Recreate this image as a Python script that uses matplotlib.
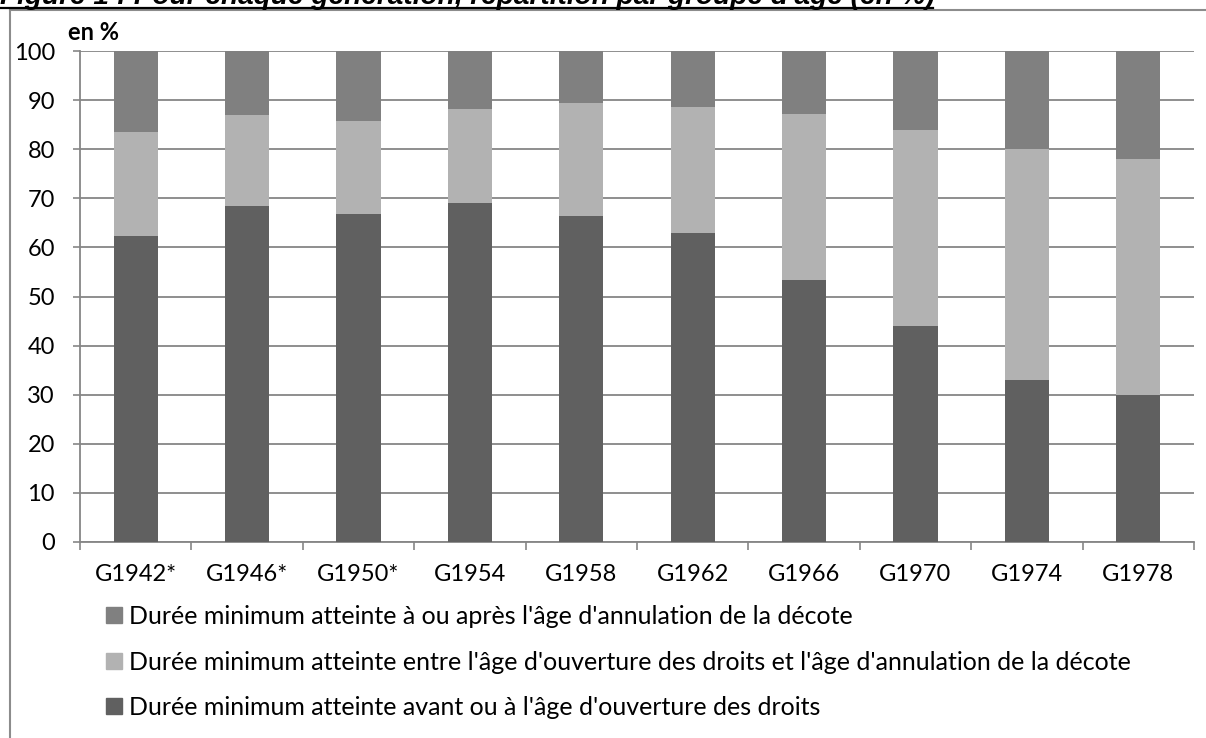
import matplotlib

matplotlib.use("Agg")
import matplotlib.pyplot as plt
import numpy as np
from matplotlib.lines import Line2D
from matplotlib.patches import Patch

# Données (en %)
generations = ["G1942*", "G1946*", "G1950*", "G1954", "G1958",
               "G1962", "G1966", "G1970", "G1974", "G1978"]
avant_ouverture = [62.3, 68.4, 66.8, 69.0, 66.4, 62.9, 53.4, 43.9, 32.9, 30.0]
entre_ages = [21.2, 18.5, 18.9, 19.2, 23.0, 25.7, 33.7, 40.0, 47.2, 48.0]
apres_annulation = [16.5, 13.1, 14.3, 11.8, 10.6, 11.4, 12.9, 16.1, 19.9, 22.0]

labels = [
    "Durée minimum atteinte à ou après l'âge d'annulation de la décote",
    "Durée minimum atteinte entre l'âge d'ouverture des droits et l'âge d'annulation de la décote",
    "Durée minimum atteinte avant ou à l'âge d'ouverture des droits",
]
col_dark = "#606060"
col_light = "#b2b2b2"
col_mid = "#808080"
grid_col = "#868686"
fs = 17

plt.rcParams["font.family"] = ["Lato", "DejaVu Sans"]

W, H = 1206, 738
fig = plt.figure(figsize=(W / 100, H / 100), dpi=100)
ax = fig.add_axes([80 / W, 1 - 542 / H, (1194 - 80) / W, (542 - 51) / H])

x = np.arange(len(generations))
bw = 0.395
b1 = np.array(avant_ouverture)
b2 = b1 + np.array(entre_ages)
ax.bar(x, avant_ouverture, bw, color=col_dark, zorder=3)
ax.bar(x, entre_ages, bw, bottom=b1, color=col_light, zorder=3)
ax.bar(x, apres_annulation, bw, bottom=b2, color=col_mid, zorder=3)

ax.set_xlim(-0.5, len(generations) - 0.5)
ax.set_ylim(0, 100)
ax.set_yticks(np.arange(0, 101, 10))
ax.set_xticks(x)
ax.set_xticklabels(generations)
ax.set_xticks(np.arange(-0.5, len(generations), 1), minor=True)
ax.tick_params(axis="x", which="major", length=0, pad=16, labelsize=fs)
ax.tick_params(axis="x", which="minor", length=6, width=1.2, color=grid_col)
ax.tick_params(axis="y", length=5, width=1.2, color=grid_col, labelsize=fs, pad=13)
ax.yaxis.grid(True, color=grid_col, linewidth=1.3, zorder=0)
for s in ["top", "right"]:
    ax.spines[s].set_visible(False)
for s in ["left", "bottom"]:
    ax.spines[s].set_color(grid_col)
    ax.spines[s].set_linewidth(1.3)
ax.set_axisbelow(True)

fig.text(68 / W, 1 - 33 / H, "en %", fontsize=fs, fontweight="bold", va="center")

# Légende
handles = [Patch(color=col_mid), Patch(color=col_light), Patch(color=col_dark)]
fig.legend(handles, labels, loc="upper left", bbox_to_anchor=(106 / W, 1 - 605 / H),
           frameon=False, fontsize=18, handlelength=0.62, handleheight=0.62,
           handletextpad=0.3, labelspacing=0.9, borderpad=0, borderaxespad=0)

# Cadre et titre (coupé en haut)
fig.add_artist(Line2D([10 / W, 10 / W], [0, 1 - 10 / H], color="#8c8c8c", lw=1.5))
fig.add_artist(Line2D([10 / W, 1], [1 - 10 / H, 1 - 10 / H], color="#8c8c8c", lw=1.5))
title = fig.text(0, 1 - 4 / H, "Figure 1 : Pour chaque génération, répartition par groupe d'âge (en %)",
                 fontsize=17, fontweight="bold", fontstyle="italic",
                 family="Liberation Sans", va="baseline", ha="left")
r = fig.canvas.get_renderer()
w = title.get_window_extent(r).width
title.set_fontsize(17 * 933 / w)
fig.add_artist(Line2D([0, 933 / W], [1 - 8 / H, 1 - 8 / H], color="black", lw=1.6))

fig.savefig("out.png", dpi=100)
